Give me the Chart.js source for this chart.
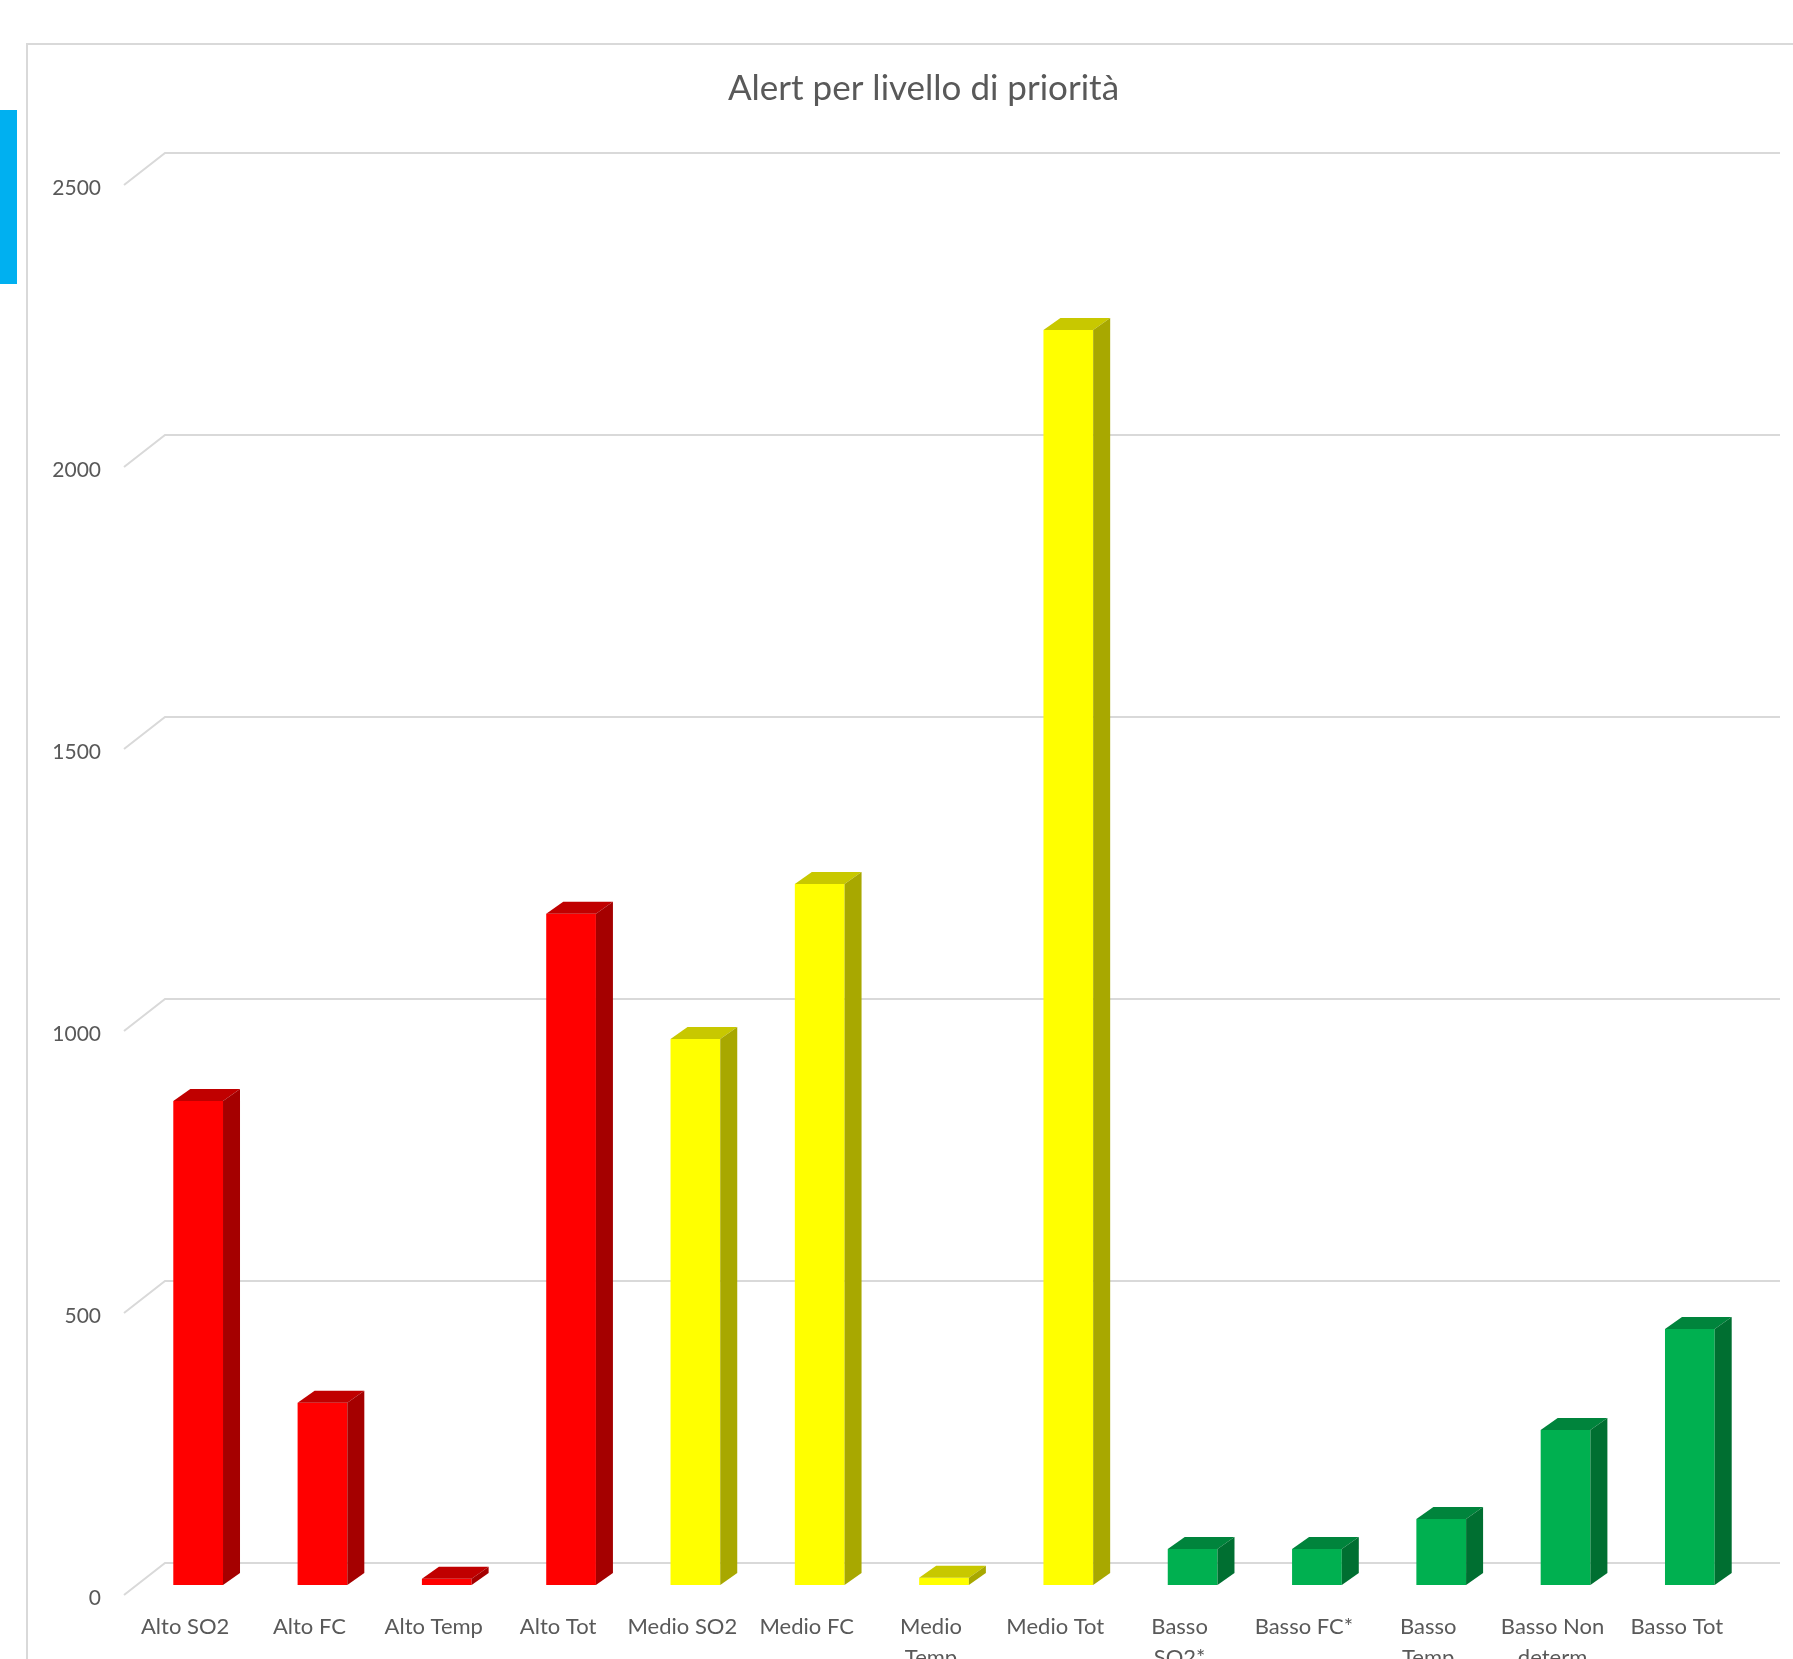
<!DOCTYPE html>
<html>
<head>
<meta charset="utf-8">
<script src="https://cdn.jsdelivr.net/npm/chart.js@4.4.1/dist/chart.umd.min.js"></script>
<style>
  html, body { margin: 0; padding: 0; overflow: hidden; background: #fff; width: 1793px; height: 1659px; }
  #frame { position: absolute; left: 26px; top: 43px; width: 1900px; height: 1800px; border: 2px solid #D9D9D9; box-sizing: border-box; }
  #tab { position: absolute; left: 0; top: 110px; width: 17px; height: 174px; background: #00B0F0; }
  canvas { position: absolute; left: 0; top: 0; }
</style>
</head>
<body>
<div id="frame"></div>
<div id="tab"></div>
<canvas id="alerts" width="1800" height="1720"></canvas>
<script>
const categories = [
  'Alto SO2', 'Alto FC', 'Alto Temp', 'Alto Tot',
  'Medio SO2', 'Medio FC', ['Medio', 'Temp'], 'Medio Tot',
  ['Basso', 'SO2*'], 'Basso FC*', ['Basso', 'Temp'], ['Basso Non', 'determ'], 'Basso Tot'
];
const alertCounts = [858, 323, 11, 1190, 968, 1243, 13, 2225, 64, 64, 117, 275, 454];
const priority = ['alto', 'alto', 'alto', 'alto', 'medio', 'medio', 'medio', 'medio', 'basso', 'basso', 'basso', 'basso', 'basso'];
const yTicks = [0, 500, 1000, 1500, 2000, 2500];

// front / top / side shades per priority
const shades = {
  alto:  { front: '#FF0000', top: '#C00000', side: '#A50000' },
  medio: { front: '#FFFF00', top: '#C8C800', side: '#A8A800' },
  basso: { front: '#00B050', top: '#00843C', side: '#006F31' }
};
const DX = 17, DY = -12;
const FONT = 'Lato, "Open Sans", sans-serif';

const backWall = {
  id: 'backWall',
  beforeDatasetsDraw(chart) {
    const { ctx, chartArea, scales } = chart;
    ctx.save();
    ctx.strokeStyle = '#D9D9D9';
    ctx.lineWidth = 2;
    yTicks.forEach(v => {
      const py = scales.y.getPixelForValue(v);
      ctx.beginPath();
      ctx.moveTo(chartArea.left - 12, py + 10);
      ctx.lineTo(chartArea.left + 29, py - 22);
      ctx.lineTo(chartArea.right + 28, py - 22);
      ctx.stroke();
    });
    ctx.restore();
  }
};

const bar3d = {
  id: 'bar3d',
  afterDatasetsDraw(chart) {
    const { ctx } = chart;
    chart.getDatasetMeta(0).data.forEach((bar, i) => {
      const s = shades[priority[i]];
      const l = bar.x - bar.width / 2, r = bar.x + bar.width / 2;
      ctx.save();
      ctx.fillStyle = s.top;
      ctx.beginPath();
      ctx.moveTo(l, bar.y);
      ctx.lineTo(l + DX, bar.y + DY);
      ctx.lineTo(r + DX, bar.y + DY);
      ctx.lineTo(r, bar.y);
      ctx.closePath();
      ctx.fill();
      ctx.fillStyle = s.side;
      ctx.beginPath();
      ctx.moveTo(r, bar.y);
      ctx.lineTo(r + DX, bar.y + DY);
      ctx.lineTo(r + DX, bar.base + DY);
      ctx.lineTo(r, bar.base);
      ctx.closePath();
      ctx.fill();
      ctx.restore();
    });
  }
};

new Chart(document.getElementById('alerts'), {
  type: 'bar',
  plugins: [backWall, bar3d],
  data: {
    labels: categories,
    datasets: [{
      data: alertCounts,
      backgroundColor: priority.map(p => shades[p].front),
      categoryPercentage: 1,
      barPercentage: 0.4
    }]
  },
  options: {
    responsive: false,
    animation: false,
    layout: { padding: { left: 53, right: 6, top: 0, bottom: 0 } },
    plugins: {
      legend: { display: false },
      tooltip: { enabled: false },
      title: {
        display: true,
        text: 'Alert per livello di priorità',
        color: '#595959',
        font: { family: FONT, size: 35, weight: 'normal', lineHeight: 1.2 },
        padding: { top: 68, bottom: 65 }
      }
    },
    scales: {
      x: {
        grid: { display: false },
        border: { display: false },
        ticks: {
          color: '#595959',
          font: { family: FONT, size: 22, lineHeight: 1.4 },
          padding: 19,
          labelOffset: -13,
          maxRotation: 0,
          autoSkip: false
        },
        afterFit(s) { s.height = 1720 - 1585; }
      },
      y: {
        min: 0,
        max: 2500,
        grid: { display: false, drawTicks: false },
        border: { display: false },
        ticks: {
          stepSize: 500,
          color: '#595959',
          font: { family: FONT, size: 21 },
          padding: 35,
          labelOffset: 13,
          callback: v => String(v)
        },
        afterFit(s) { s.width = 136 - 53; }
      },
      // empty right-hand margin of the plot frame
      yRight: {
        position: 'right',
        grid: { display: false },
        border: { display: false },
        ticks: { display: false },
        afterFit(s) { s.width = 42; }
      }
    }
  }
});
</script>
</body>
</html>
